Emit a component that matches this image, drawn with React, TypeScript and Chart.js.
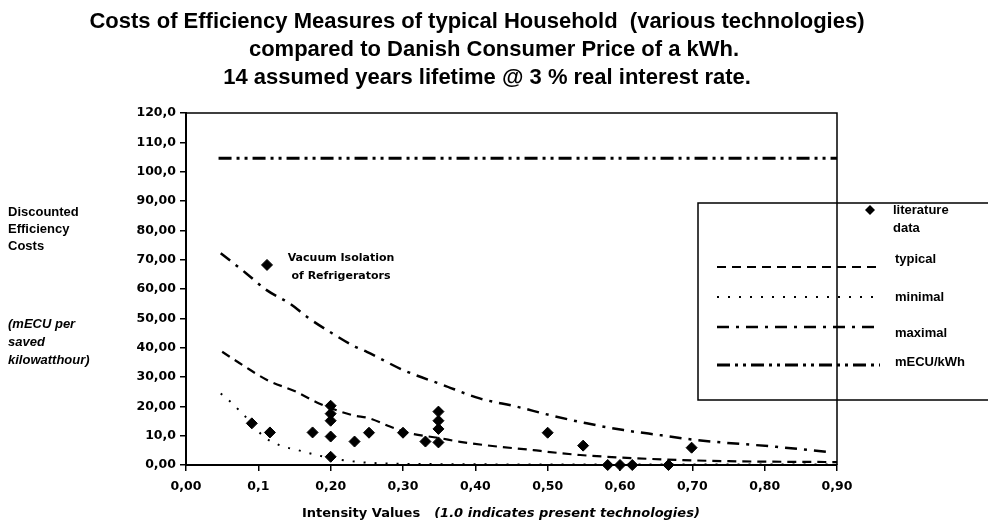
import React, { useEffect, useRef } from "react";
import { Chart, registerables } from "chart.js";

Chart.register(...registerables);

const titleLines = [
  "Costs of Efficiency Measures of typical Household  (various technologies)",
  "compared to Danish Consumer Price of a kWh.",
  "14 assumed years lifetime @ 3 % real interest rate.",
];
const yTitleLines = ["Discounted", "Efficiency", "Costs"];
const yUnitLines = ["(mECU per", "saved", "kilowatthour)"];
const xTitleMain = "Intensity Values";
const xTitleNote = "(1.0 indicates present technologies)";
const annotationLines = ["Vacuum Isolation", "of Refrigerators"];

const xTickValues = [0, 0.1, 0.2, 0.3, 0.4, 0.5, 0.6, 0.7, 0.8, 0.9];
const xTickLabels = ["0,00", "0,1", "0,20", "0,30", "0,40", "0,50", "0,60", "0,70", "0,80", "0,90"];
const yTickValues = [0, 10, 20, 30, 40, 50, 60, 70, 80, 90, 100, 110, 120];
const yTickLabels = ["0,00", "10,0", "20,00", "30,00", "40,00", "50,00", "60,00", "70,00", "80,00", "90,00", "100,0", "110,0", "120,0"];

const litX = [0.091, 0.112, 0.116, 0.175, 0.2, 0.2, 0.2, 0.2, 0.2, 0.233, 0.253, 0.3, 0.331, 0.349, 0.349, 0.349, 0.349, 0.5, 0.549, 0.583, 0.6, 0.617, 0.667, 0.699];
const litY = [14.2, 68.2, 11.1, 11.1, 20.2, 17.5, 15.1, 9.7, 2.8, 8.0, 11.0, 11.0, 8.0, 18.2, 15.1, 12.3, 7.7, 11.0, 6.6, 0, 0, 0, 0, 5.9];

const typicalX = [0.05, 0.078, 0.112, 0.152, 0.184, 0.23, 0.254, 0.282, 0.31, 0.35, 0.379, 0.434, 0.48, 0.5, 0.545, 0.582, 0.66, 0.75, 0.9];
const typicalY = [38.6, 34.1, 29.0, 25.0, 21.0, 17.0, 15.9, 13.1, 10.8, 9.2, 7.9, 6.2, 5.1, 4.5, 3.4, 2.8, 1.9, 1.3, 1.0];

const minimalX = [0.048, 0.064, 0.076, 0.09, 0.106, 0.129, 0.159, 0.184, 0.203, 0.24, 0.3, 0.5, 0.9];
const minimalY = [24.4, 21.0, 18.0, 14.5, 10.0, 6.8, 4.8, 3.2, 2.2, 1.0, 0.4, 0.2, 0.2];

const maximalX = [0.048, 0.083, 0.111, 0.143, 0.17, 0.202, 0.234, 0.25, 0.3, 0.355, 0.406, 0.457, 0.503, 0.554, 0.605, 0.655, 0.706, 0.816, 0.886];
const maximalY = [72.2, 65.4, 59.7, 55.1, 50.0, 44.9, 40.3, 38.6, 32.4, 27.3, 22.7, 19.9, 17.0, 14.2, 11.9, 10.2, 8.5, 6.2, 4.5];

const priceX = [0.045, 0.9];
const priceY = [104.6, 104.6];

const legendLabels = ["literature", "typical", "minimal", "maximal", "mECU/kWh"];

const FONT = "'Liberation Sans', Arial, Helvetica, sans-serif";
const WIDE = "'DejaVu Sans', Verdana, sans-serif";

const pts = (xs: number[], ys: number[]) => xs.map((x, i) => ({ x, y: ys[i] }));

const textPlugin = {
  id: "textPlugin",
  afterDraw(chart: any) {
    const ctx = chart.ctx as CanvasRenderingContext2D;
    const area = chart.chartArea;
    ctx.save();
    ctx.fillStyle = "#000";
    ctx.textBaseline = "middle";

    // title
    ctx.font = `bold 22px ${FONT}`;
    ctx.textAlign = "center";
    const titleCx = [477, 494, 487];
    const titleCy = [22, 50, 78];
    titleLines.forEach((t, i) => ctx.fillText(t, titleCx[i], titleCy[i]));

    // y title
    ctx.textAlign = "left";
    ctx.font = `bold 13px ${FONT}`;
    yTitleLines.forEach((t, i) => ctx.fillText(t, 8, 212 + i * 17));
    ctx.font = `italic bold 13px ${FONT}`;
    yUnitLines.forEach((t, i) => ctx.fillText(t, 8, 324 + i * 18));

    // annotation
    ctx.textAlign = "center";
    ctx.font = `bold 11px ${WIDE}`;
    annotationLines.forEach((t, i) => ctx.fillText(t, 341, 258 + i * 18));

    // x title
    ctx.textAlign = "left";
    ctx.font = `bold 13px ${WIDE}`;
    ctx.fillText(xTitleMain, 302, 514);
    const w = ctx.measureText(xTitleMain).width;
    ctx.font = `italic bold 13px ${WIDE}`;
    ctx.fillText(xTitleNote, 302 + w + 14, 514);

    // legend box
    const lx = 698, ly = 203, lb = 400;
    ctx.fillStyle = "#fff";
    ctx.fillRect(lx, ly, 300, lb - ly);
    ctx.strokeStyle = "#000";
    ctx.lineWidth = 1.5;
    ctx.strokeRect(lx, ly, 300, lb - ly);
    ctx.fillStyle = "#000";
    // literature marker
    ctx.beginPath();
    ctx.moveTo(870, 205);
    ctx.lineTo(875, 210);
    ctx.lineTo(870, 215);
    ctx.lineTo(865, 210);
    ctx.closePath();
    ctx.fill();
    ctx.font = `bold 13px ${FONT}`;
    ctx.textAlign = "left";
    ctx.fillText(legendLabels[0], 893, 210);
    ctx.fillText("data", 893, 228);
    const ds = chart.data.datasets;
    const rows = [
      { d: ds[1], ly: 267, ty: 259, label: legendLabels[1] },
      { d: ds[2], ly: 297, ty: 297, label: legendLabels[2] },
      { d: ds[3], ly: 327, ty: 333, label: legendLabels[3] },
      { d: ds[4], ly: 365, ty: 362, label: legendLabels[4] },
    ];
    rows.forEach((r) => {
      ctx.save();
      ctx.strokeStyle = "#000";
      ctx.lineWidth = r.d.borderWidth;
      ctx.setLineDash(r.d.borderDash);
      ctx.beginPath();
      ctx.moveTo(717, r.ly);
      ctx.lineTo(880, r.ly);
      ctx.stroke();
      ctx.restore();
      ctx.fillText(r.label, 895, r.ty);
    });

    // frame
    ctx.strokeStyle = "#000";
    ctx.lineWidth = 1.5;
    ctx.beginPath();
    ctx.moveTo(area.left, area.top);
    ctx.lineTo(area.right, area.top);
    ctx.lineTo(area.right, area.bottom);
    ctx.stroke();
    ctx.restore();
  },
};

export default function App() {
  const ref = useRef<HTMLCanvasElement>(null);
  useEffect(() => {
    if (!ref.current) return;
    const chart = new Chart(ref.current, {
      type: "scatter",
      data: {
        datasets: [
          {
            label: legendLabels[0],
            data: pts(litX, litY),
            showLine: false,
            pointStyle: "rectRot",
            pointRadius: 5.5,
            backgroundColor: "#000",
            borderColor: "#000",
            clip: false,
          } as any,
          {
            label: legendLabels[1],
            data: pts(typicalX, typicalY),
            showLine: true,
            pointRadius: 0,
            borderColor: "#000",
            borderWidth: 2.2,
            borderDash: [9, 6],
            cubicInterpolationMode: "monotone",
          },
          {
            label: legendLabels[2],
            data: pts(minimalX, minimalY),
            showLine: true,
            pointRadius: 0,
            borderColor: "#000",
            borderWidth: 2,
            borderDash: [2, 9],
            cubicInterpolationMode: "monotone",
          },
          {
            label: legendLabels[3],
            data: pts(maximalX, maximalY),
            showLine: true,
            pointRadius: 0,
            borderColor: "#000",
            borderWidth: 2.5,
            borderDash: [12, 7, 3, 7],
            cubicInterpolationMode: "monotone",
          },
          {
            label: legendLabels[4],
            data: pts(priceX, priceY),
            showLine: true,
            pointRadius: 0,
            borderColor: "#000",
            borderWidth: 3,
            borderDash: [13, 5, 3, 5, 3, 5],
          },
        ],
      },
      options: {
        responsive: false,
        animation: false,
        layout: { padding: { left: 0, right: 151, top: 113, bottom: 0 } },
        plugins: {
          legend: { display: false },
          title: { display: false },
          tooltip: { enabled: false },
        },
        scales: {
          x: {
            type: "linear",
            min: 0,
            max: 0.9,
            afterBuildTicks: (s: any) => {
              s.ticks = xTickValues.map((v) => ({ value: v }));
            },
            afterFit: (s: any) => {
              s.height = 59;
            },
            ticks: {
              callback: (_v: any, i: number) => xTickLabels[i],
              color: "#000",
              font: { family: WIDE, size: 12.5, weight: "bold" },
              padding: 8,
              maxRotation: 0,
              autoSkip: false,
            },
            grid: { drawOnChartArea: false, tickLength: 6, color: "#000", lineWidth: 1.5 },
            border: { color: "#000", width: 2 },
          },
          y: {
            type: "linear",
            min: 0,
            max: 120,
            afterBuildTicks: (s: any) => {
              s.ticks = yTickValues.map((v) => ({ value: v }));
            },
            afterFit: (s: any) => {
              s.width = 186;
            },
            ticks: {
              callback: (_v: any, i: number) => yTickLabels[i],
              color: "#000",
              font: { family: WIDE, size: 12.5, weight: "bold" },
              padding: 4,
              autoSkip: false,
            },
            grid: { drawOnChartArea: false, tickLength: 6, color: "#000", lineWidth: 1.5 },
            border: { color: "#000", width: 2 },
          },
        },
      },
      plugins: [textPlugin],
    } as any);
    return () => chart.destroy();
  }, []);
  return (
    <div style={{ position: "absolute", left: 0, top: 0, width: 988, height: 524, background: "#fff" }}>
      <canvas ref={ref} width={988} height={524} style={{ display: "block" }} />
    </div>
  );
}
